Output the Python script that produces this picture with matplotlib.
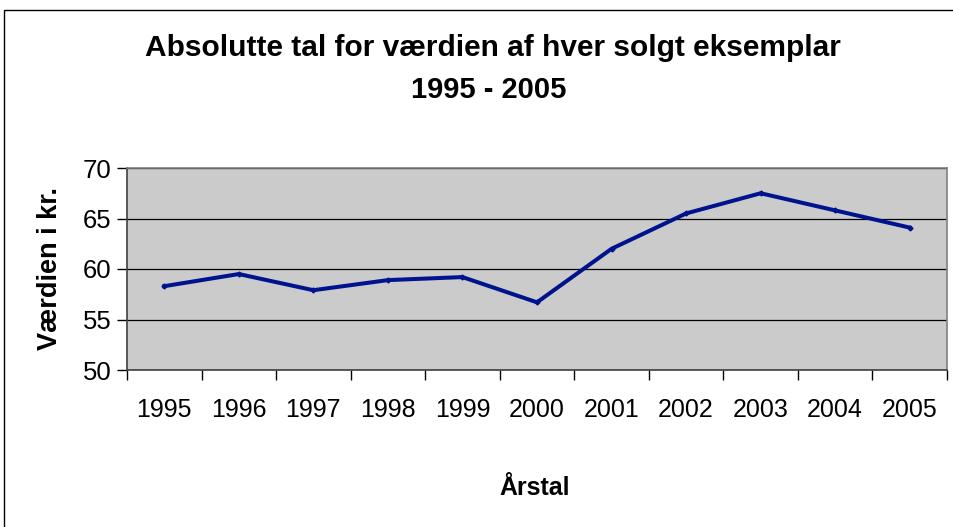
import matplotlib
matplotlib.use("Agg")
import matplotlib.pyplot as plt
from matplotlib.patches import Rectangle

years = ["1995", "1996", "1997", "1998", "1999", "2000", "2001", "2002", "2003", "2004", "2005"]
values = [58.3, 59.5, 57.9, 58.9, 59.2, 56.7, 62.0, 65.5, 67.5, 65.8, 64.1]
yticks = [50, 55, 60, 65, 70]

plt.rcParams['font.family'] = ['Liberation Sans', 'DejaVu Sans']

W, H = 954, 527
fig = plt.figure(figsize=(W / 100, H / 100), dpi=100)
fig.patch.set_facecolor('white')

# chart-area border (left and top visible)
fig.patches.append(Rectangle((4 / W, -0.05), 1.2, (H - 10) / H + 0.05, transform=fig.transFigure,
                             fill=False, edgecolor='black', linewidth=1.0))

left, right, top, bottom = 127, 947, 168, 370
ax = fig.add_axes([left / W, (H - bottom) / H, (right - left) / W, (bottom - top) / H])
ax.set_facecolor('#cbcbcb')

x = list(range(len(years)))
ax.plot(x, values, color='#00138f', linewidth=2.9, marker='D', markersize=2.5,
        solid_joinstyle='miter', zorder=3)

ax.set_xlim(-0.5, len(years) - 0.5)
ax.set_ylim(50, 70)
ax.set_yticks(yticks)
ax.set_yticklabels([str(v) for v in yticks], fontsize=18.5)
ax.yaxis.grid(True, color='black', linewidth=0.9)
ax.set_axisbelow(True)

ax.set_xticks([i - 0.5 for i in range(len(years) + 1)])
ax.set_xticklabels([])
ax.set_xticks(x, minor=True)
ax.set_xticklabels(years, minor=True, fontsize=18)
ax.tick_params(axis='x', which='minor', length=0, pad=20)
ax.tick_params(axis='x', which='major', length=7, width=1, direction='out', color='black')
ax.tick_params(axis='y', length=7, width=1, direction='out', color='black', pad=4)

for s in ['top', 'right']:
    ax.spines[s].set_color('#808080')
    ax.spines[s].set_linewidth(1.2)
for s in ['left', 'bottom']:
    ax.spines[s].set_color('#404040')
    ax.spines[s].set_linewidth(1.2)

fig.text(493 / W, 1 - 48 / H, "Absolutte tal for værdien af hver solgt eksemplar",
         ha='center', va='center', fontsize=21.5, fontweight='bold')
fig.text(489 / W, 1 - 90 / H, "1995 - 2005",
         ha='center', va='center', fontsize=21, fontweight='bold')
fig.text(50 / W, 1 - 268 / H, "Værdien i kr.", rotation=90,
         ha='center', va='center', fontsize=19.5, fontweight='bold')
fig.text(535 / W, 1 - 488 / H, "Årstal",
         ha='center', va='center', fontsize=18, fontweight='bold')

fig.savefig("out.png", dpi=100)
